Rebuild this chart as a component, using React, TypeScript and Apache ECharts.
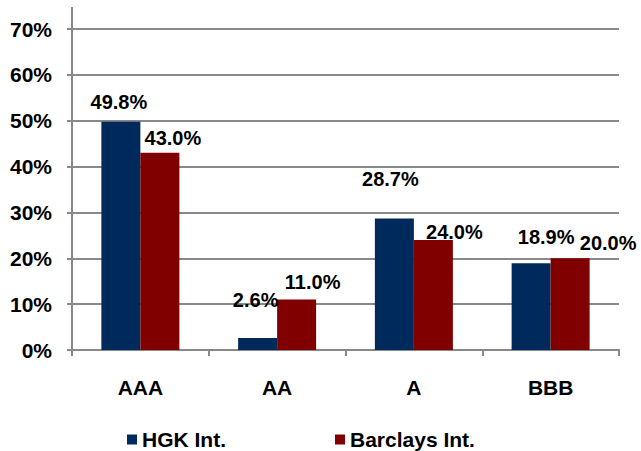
import React, { useEffect, useRef } from "react";
import * as echarts from "echarts";

const categories = ["AAA", "AA", "A", "BBB"];
const hgkValues = [49.8, 2.6, 28.7, 18.9];
const barclaysValues = [43.0, 11.0, 24.0, 20.0];
const seriesNames = ["HGK Int.", "Barclays Int."];
const yMin = 0;
const yMax = 70;
const yInterval = 10;

// label nudges (layout only)
const hgkLabelOffsets = [[-2, -5], [-2, -23], [-4, -24], [15, -11]];
const barclaysLabelOffsets = [[13, 0], [16, -3], [21, 7], [38, 0]];

const FONT = "'Liberation Sans', Arial, sans-serif";
const GRID_COLOR = "#898989";

function buildData(values: number[], offsets: number[][]) {
  return values.map((v, i) => ({
    value: v,
    label: { offset: offsets[i] },
  }));
}

export default function App() {
  const ref = useRef<HTMLDivElement>(null);
  useEffect(() => {
    document.body.style.margin = "0";
    if (!ref.current) return;
    const chart = echarts.init(ref.current, null, { renderer: "svg" });
    const labelStyle = {
      show: true,
      position: "top",
      distance: 5,
      fontFamily: FONT,
      fontWeight: "bold",
      fontSize: 20,
      color: "#000",
      formatter: (p: any) => Number(p.value).toFixed(1) + "%",
    };
    chart.setOption({
      animation: false,
      backgroundColor: "#fff",
      grid: { left: 72, right: 22, top: 29, bottom: 101, containLabel: false },
      legend: {
        data: seriesNames,
        left: 122,
        top: 424,
        icon: "rect",
        itemWidth: 10,
        itemHeight: 10,
        itemGap: 109,
        textStyle: {
          fontFamily: FONT,
          fontWeight: "bold",
          fontSize: 21,
          color: "#000",
          lineHeight: 21,
        },
      },
      xAxis: {
        type: "category",
        data: categories,
        axisLine: { show: true, lineStyle: { color: GRID_COLOR, width: 2 } },
        axisTick: { show: true, length: 6, lineStyle: { color: GRID_COLOR, width: 2 } },
        axisLabel: {
          margin: 27,
          fontFamily: FONT,
          fontWeight: "bold",
          fontSize: 21,
          color: "#000",
        },
        splitLine: { show: false },
      },
      yAxis: {
        type: "value",
        min: yMin,
        max: yMax,
        interval: yInterval,
        axisLine: { show: true, lineStyle: { color: GRID_COLOR, width: 2 } },
        axisTick: { show: true, length: 5, lineStyle: { color: GRID_COLOR, width: 2 } },
        axisLabel: {
          margin: 20,
          fontFamily: FONT,
          fontWeight: "bold",
          fontSize: 21,
          color: "#000",
          formatter: (v: number) => v + "%",
        },
        splitLine: { show: true, lineStyle: { color: GRID_COLOR, width: 2 } },
      },
      graphic: [
        {
          type: "line",
          shape: { x1: 72, y1: 7, x2: 72, y2: 29 },
          style: { stroke: GRID_COLOR, lineWidth: 2 },
        },
      ],
      series: [
        {
          name: seriesNames[0],
          type: "bar",
          data: buildData(hgkValues, hgkLabelOffsets),
          barWidth: 39,
          barGap: "0%",
          itemStyle: { color: "#002A5C" },
          label: labelStyle,
        },
        {
          name: seriesNames[1],
          type: "bar",
          data: buildData(barclaysValues, barclaysLabelOffsets),
          barWidth: 39,
          barGap: "0%",
          itemStyle: { color: "#800000" },
          label: labelStyle,
        },
      ],
    });
    return () => chart.dispose();
  }, []);
  return <div ref={ref} style={{ width: 641, height: 451 }} />;
}
